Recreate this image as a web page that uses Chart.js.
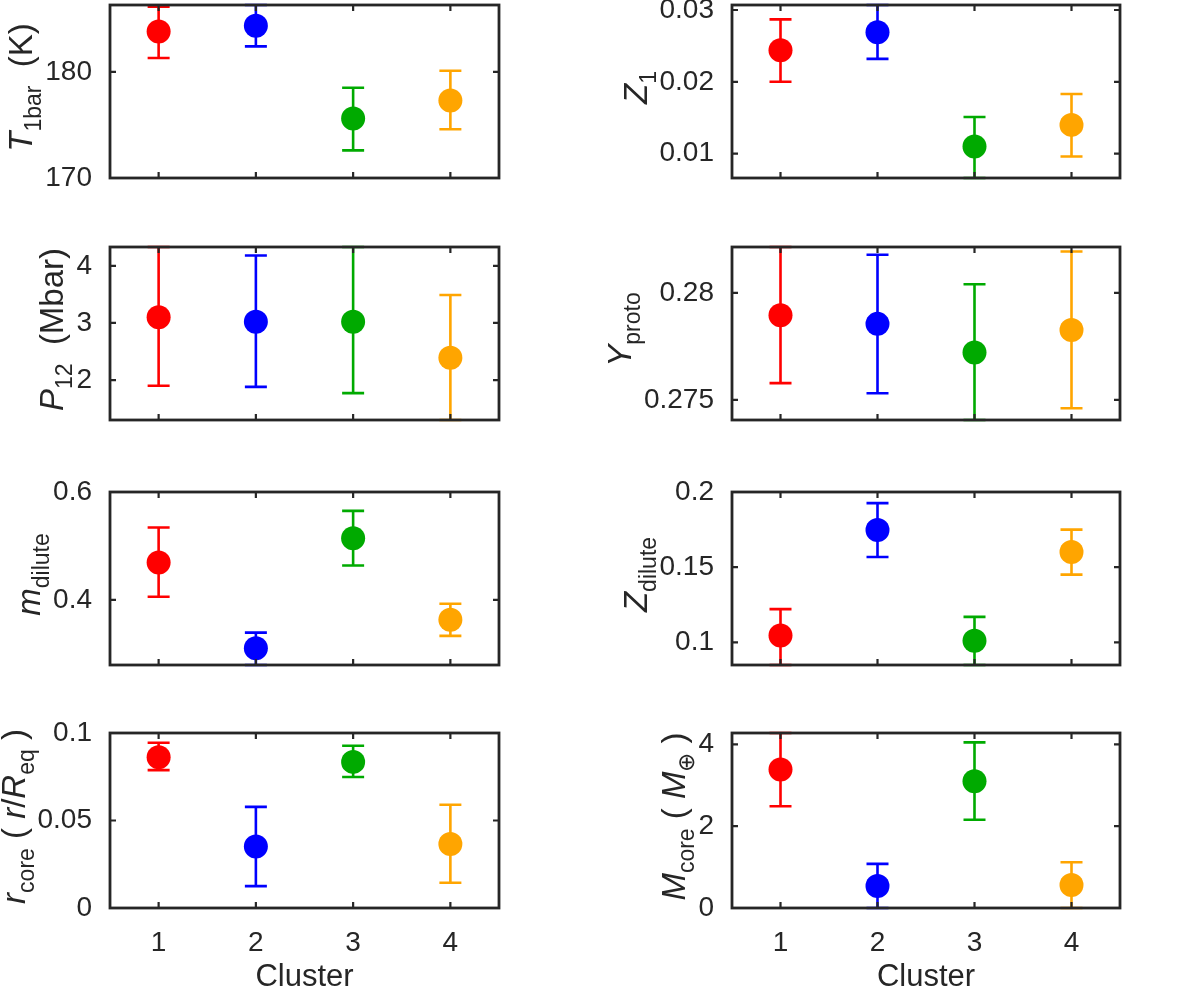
<!DOCTYPE html>
<html>
<head>
<meta charset="utf-8">
<script src="https://cdn.jsdelivr.net/npm/chart.js@4.4.1/dist/chart.umd.min.js"></script>
<style>
  html, body { margin: 0; padding: 0; background: #fff; }
  #wrap { position: relative; width: 1200px; height: 991px; overflow: hidden; }
  canvas { position: absolute; }
</style>
</head>
<body>
<div id="wrap"></div>
<script>
// cluster ids and colours
const clusters = [1, 2, 3, 4];
const clusterColors = ['#ff0000', '#0000ff', '#00aa00', '#ffa500'];

// T1bar (K)
const t1barMid = [183.8, 184.35, 175.6, 177.3];
const t1barLow = [181.3, 182.4, 172.6, 174.6];
const t1barHigh = [186.15, 186.3, 178.5, 180.1];
const t1barTicks = [170, 180];

// Z1
const z1Mid = [0.0244, 0.0269, 0.0110, 0.0140];
const z1Low = [0.0200, 0.0232, 0.0066, 0.0096];
const z1High = [0.0287, 0.0307, 0.0151, 0.0183];
const z1Ticks = [0.01, 0.02, 0.03];

// P12 (Mbar)
const p12Mid = [3.10, 3.02, 3.02, 2.39];
const p12Low = [1.90, 1.88, 1.77, 1.30];
const p12High = [4.33, 4.18, 4.33, 3.49];
const p12Ticks = [2, 3, 4];

// Yproto
const yprotoMid = [0.27895, 0.27855, 0.27721, 0.27826];
const yprotoLow = [0.27578, 0.27531, 0.27406, 0.27461];
const yprotoHigh = [0.28214, 0.28178, 0.28040, 0.28193];
const yprotoTicks = [0.275, 0.28];

// m_dilute
const mdilMid = [0.469, 0.310, 0.514, 0.363];
const mdilLow = [0.4055, 0.279, 0.4637, 0.333];
const mdilHigh = [0.534, 0.339, 0.565, 0.3926];
const mdilTicks = [0.4, 0.6];

// Z_dilute
const zdilMid = [0.1046, 0.1747, 0.1011, 0.1601];
const zdilLow = [0.0849, 0.1568, 0.0849, 0.1450];
const zdilHigh = [0.1221, 0.1926, 0.1169, 0.1750];
const zdilTicks = [0.1, 0.15, 0.2];

// r_core (r/Req)
const rcoreMid = [0.0862, 0.0351, 0.0835, 0.0366];
const rcoreLow = [0.0788, 0.0125, 0.0749, 0.0144];
const rcoreHigh = [0.0944, 0.0578, 0.0927, 0.0590];
const rcoreTicks = [0, 0.05, 0.1];

// M_core (M_earth)
const mcoreMid = [3.39, 0.54, 3.10, 0.56];
const mcoreLow = [2.49, 0, 2.16, 0];
const mcoreHigh = [4.28, 1.08, 4.05, 1.12];
const mcoreTicks = [0, 2, 4];

const xTickVals = [1, 2, 3, 4];

const FONT = "'Liberation Sans', Arial, Helvetica, sans-serif";
const INK = '#262626';
Chart.defaults.font.family = FONT;
Chart.defaults.color = INK;

const panels = [
  { mid: t1barMid, low: t1barLow, high: t1barHigh, ticks: t1barTicks, min: 170, max: 186.3,
    label: [{ t: 'T', i: true }, { t: '1bar', sub: true }, { t: '  (K)' }] },
  { mid: z1Mid, low: z1Low, high: z1High, ticks: z1Ticks, min: 0.0066, max: 0.0307,
    label: [{ t: 'Z', i: true }, { t: '1', sub: true }] },
  { mid: p12Mid, low: p12Low, high: p12High, ticks: p12Ticks, min: 1.30, max: 4.33,
    label: [{ t: 'P', i: true }, { t: '12', sub: true }, { t: '  (Mbar)' }] },
  { mid: yprotoMid, low: yprotoLow, high: yprotoHigh, ticks: yprotoTicks, min: 0.27406, max: 0.28214,
    label: [{ t: 'Y', i: true }, { t: 'proto', sub: true }] },
  { mid: mdilMid, low: mdilLow, high: mdilHigh, ticks: mdilTicks, min: 0.279, max: 0.6,
    label: [{ t: 'm', i: true }, { t: 'dilute', sub: true }] },
  { mid: zdilMid, low: zdilLow, high: zdilHigh, ticks: zdilTicks, min: 0.0849, max: 0.2,
    label: [{ t: 'Z', i: true }, { t: 'dilute', sub: true }] },
  { mid: rcoreMid, low: rcoreLow, high: rcoreHigh, ticks: rcoreTicks, min: 0, max: 0.1,
    label: [{ t: 'r', i: true }, { t: 'core', sub: true }, { t: ' ( ' }, { t: 'r', i: true }, { t: '/' },
            { t: 'R', i: true }, { t: 'eq', sub: true }, { t: ' )' }] },
  { mid: mcoreMid, low: mcoreLow, high: mcoreHigh, ticks: mcoreTicks, min: 0, max: 4.28,
    label: [{ t: 'M', i: true }, { t: 'core', sub: true }, { t: ' ( ' }, { t: 'M', i: true },
            { t: '\u2295', sub: true }, { t: ' )' }] }
];

const rowTops = [5, 247, 492, 733];
const AREA_H = 175;
const TICK_FONT = 28;

function segFont(s) {
  const size = s.sub ? 23 : 33;
  return (s.i ? 'italic ' : '') + size + 'px ' + FONT;
}

function drawRichLabel(ctx, segs, x, y) {
  ctx.save();
  let total = 0;
  segs.forEach(s => { ctx.font = segFont(s); total += ctx.measureText(s.t).width; });
  ctx.translate(x, y);
  ctx.rotate(-Math.PI / 2);
  ctx.fillStyle = INK;
  ctx.textBaseline = 'alphabetic';
  ctx.textAlign = 'left';
  let cur = -total / 2;
  segs.forEach(s => {
    ctx.font = segFont(s);
    ctx.fillText(s.t, cur, s.sub ? 9 : 0);
    cur += ctx.measureText(s.t).width;
  });
  ctx.restore();
}

const errBars = {
  id: 'errBars',
  beforeDatasetsDraw(chart, args, opts) {
    const ctx = chart.ctx, xs = chart.scales.x, ys = chart.scales.y;
    ctx.save();
    ctx.lineWidth = 2.6;
    clusters.forEach((c, i) => {
      const x = xs.getPixelForValue(c);
      const yl = ys.getPixelForValue(opts.low[i]);
      const yh = ys.getPixelForValue(opts.high[i]);
      ctx.strokeStyle = clusterColors[i];
      ctx.beginPath();
      ctx.moveTo(x, yl); ctx.lineTo(x, yh);
      ctx.moveTo(x - 11, yl); ctx.lineTo(x + 11, yl);
      ctx.moveTo(x - 11, yh); ctx.lineTo(x + 11, yh);
      ctx.stroke();
    });
    ctx.restore();
  }
};

const boxAxes = {
  id: 'boxAxes',
  afterDraw(chart, args, opts) {
    const ctx = chart.ctx, a = chart.chartArea, xs = chart.scales.x, ys = chart.scales.y;
    const tl = 6;
    ctx.save();
    ctx.strokeStyle = INK;
    ctx.lineWidth = 2.8;
    ctx.strokeRect(a.left, a.top, a.right - a.left, a.bottom - a.top);
    ctx.lineWidth = 2.2;
    ctx.beginPath();
    xTickVals.forEach(v => {
      const x = xs.getPixelForValue(v);
      ctx.moveTo(x, a.bottom); ctx.lineTo(x, a.bottom - tl);
      ctx.moveTo(x, a.top); ctx.lineTo(x, a.top + tl);
    });
    opts.yTicks.forEach(v => {
      const y = ys.getPixelForValue(v);
      ctx.moveTo(a.left, y); ctx.lineTo(a.left + tl, y);
      ctx.moveTo(a.right, y); ctx.lineTo(a.right - tl, y);
    });
    ctx.stroke();
    // y label placed left of the widest tick label
    ctx.font = TICK_FONT + 'px ' + FONT;
    let w = 0;
    opts.yTicks.forEach(v => { w = Math.max(w, ctx.measureText(String(v)).width); });
    const tickLeft = a.left - 10 - w;
    ctx.restore();
    drawRichLabel(ctx, opts.label, tickLeft - 21, (a.top + a.bottom) / 2 - 4);
  }
};

const wrap = document.getElementById('wrap');

panels.forEach((p, idx) => {
  const col = idx % 2, row = Math.floor(idx / 2);
  const last = row === 3;
  const xH = last ? 95 : 0;
  const cv = document.createElement('canvas');
  const w = col ? 560 : 530;
  const h = 20 + AREA_H + (last ? xH : 10);
  cv.width = w; cv.height = h;
  cv.style.left = (col ? 600 : 0) + 'px';
  cv.style.top = (rowTops[row] - 20) + 'px';
  cv.style.width = w + 'px'; cv.style.height = h + 'px';
  wrap.appendChild(cv);

  new Chart(cv.getContext('2d'), {
    type: 'scatter',
    data: {
      datasets: [{
        data: clusters.map((c, i) => ({ x: c, y: p.mid[i] })),
        backgroundColor: clusterColors,
        borderWidth: 0,
        pointRadius: 12,
        pointHoverRadius: 12
      }]
    },
    options: {
      responsive: false,
      animation: false,
      events: [],
      devicePixelRatio: 1,
      layout: { padding: { top: 20, bottom: last ? 0 : 10, left: 0, right: col ? 40 : 31 } },
      plugins: {
        legend: { display: false },
        tooltip: { enabled: false },
        errBars: { low: p.low, high: p.high },
        boxAxes: { yTicks: p.ticks, label: p.label }
      },
      scales: {
        x: {
          type: 'linear', min: 0.5, max: 4.5,
          grid: { display: false }, border: { display: false },
          afterBuildTicks: s => { s.ticks = xTickVals.map(v => ({ value: v })); },
          afterFit: s => { s.height = xH; s.paddingLeft = 0; s.paddingRight = 0; },
          ticks: { display: last, padding: 10, font: { size: TICK_FONT }, color: INK, callback: v => String(v) },
          title: { display: last, text: 'Cluster', font: { size: 31 }, color: INK, padding: { top: 6, bottom: 7 } }
        },
        y: {
          type: 'linear', min: p.min, max: p.max,
          grid: { display: false }, border: { display: false },
          afterBuildTicks: s => { s.ticks = p.ticks.map(v => ({ value: v })); },
          afterFit: s => { s.width = col ? 132 : 110; s.paddingTop = 0; s.paddingBottom = 0; },
          ticks: { padding: 10, font: { size: TICK_FONT }, color: INK, callback: v => String(v) }
        }
      }
    },
    plugins: [errBars, boxAxes]
  });
});
</script>
</body>
</html>
